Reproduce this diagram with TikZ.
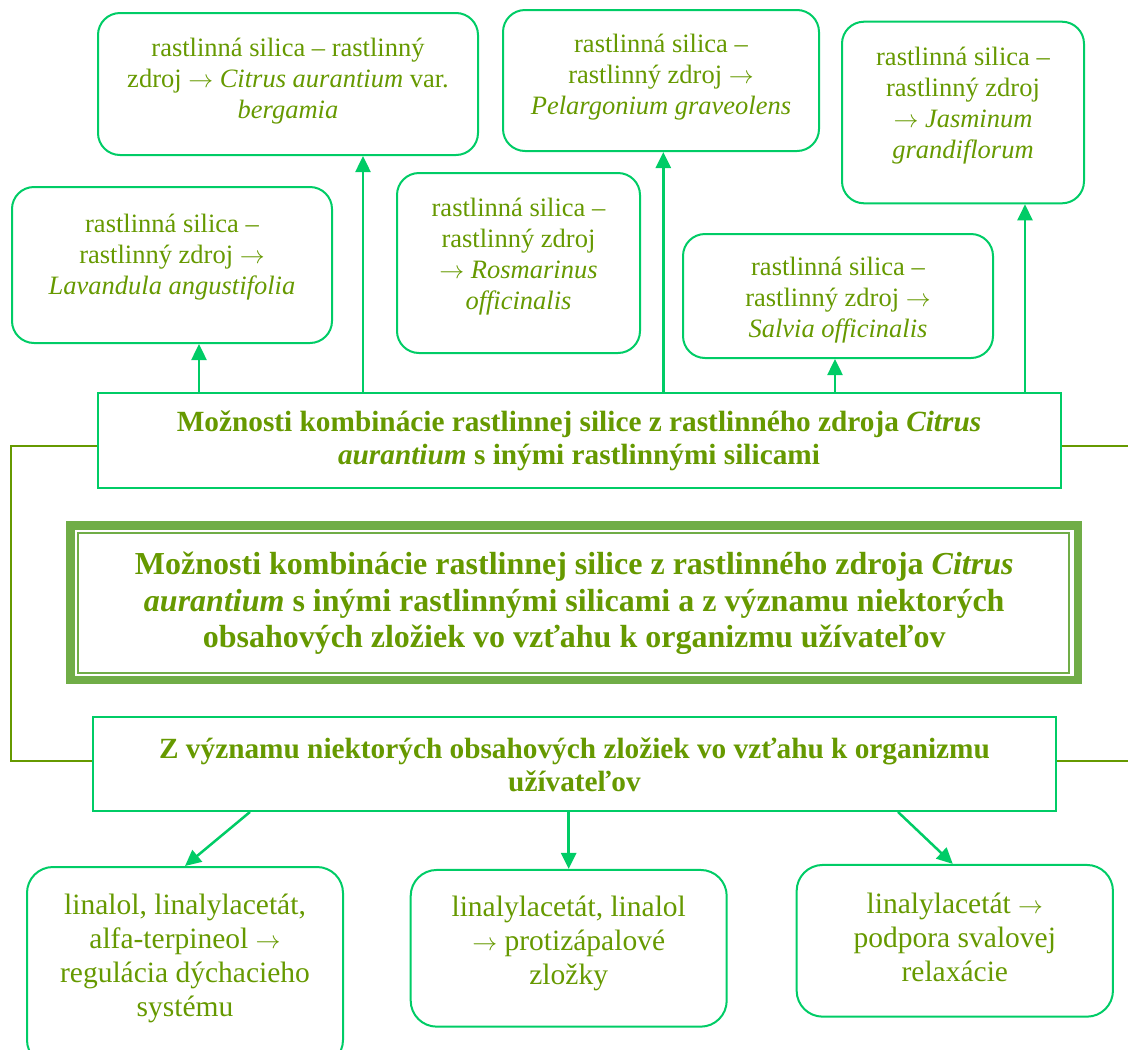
\documentclass[tikz,border=0pt]{standalone}
\usepackage{fontspec}
\setmainfont{Liberation Serif}
\usetikzlibrary{arrows.meta}
\definecolor{txtgreen}{RGB}{102,153,0}
\definecolor{boxgreen}{RGB}{0,204,102}
\definecolor{framegreen}{RGB}{112,173,71}
\definecolor{linkgreen}{RGB}{102,153,0}
\newcommand{\myarrow}{\ensuremath{\rightarrow}}
\begin{document}
\begin{tikzpicture}[x=1pt,y=-1pt,
  rbox/.style={draw=boxgreen, line width=2pt, rounded corners=22pt},
  lbox/.style={draw=boxgreen, line width=2pt, rounded corners=26pt},
  sbox/.style={draw=boxgreen, line width=2pt},
  stxt/.style={text=txtgreen, align=center, inner sep=0pt, font=\fontsize{26.5}{31}\selectfont},
  btxt/.style={text=txtgreen, align=center, inner sep=0pt, font=\fontsize{29.3}{33.5}\selectfont\bfseries},
  ctxt/.style={text=txtgreen, align=center, inner sep=0pt, font=\fontsize{32}{36.5}\selectfont\bfseries},
  ltxt/.style={text=txtgreen, align=center, inner sep=0pt, font=\fontsize{29.5}{34}\selectfont},
  arr/.style={draw=boxgreen, line width=2.5pt, -{Triangle[width=15pt,length=16pt]}},
  link/.style={draw=linkgreen, line width=2pt}]
\useasboundingbox (0,0) rectangle (1128,1050);

% top boxes
\node[rbox, minimum width=320pt, minimum height=156pt] (A) at (172,265) {};
\node[stxt] (At) at (172,257) {rastlinná silica –\\ rastlinný zdroj \myarrow\\ \textit{Lavandula angustifolia}};
\node[rbox, minimum width=380pt, minimum height=142pt] (B) at (288,84) {};
\node[stxt] (Bt) at (288,81) {rastlinná silica – rastlinný\\ zdroj \myarrow{} \textit{Citrus aurantium} var.\\ \textit{bergamia}};
\node[rbox, minimum width=243pt, minimum height=180pt] (C) at (518.5,263) {};
\node[stxt] (Ct) at (518.5,256.5) {rastlinná silica –\\ rastlinný zdroj\\ \myarrow{} \textit{Rosmarinus}\\ \textit{officinalis}};
\node[rbox, minimum width=316pt, minimum height=141pt] (D) at (661,80.5) {};
\node[stxt] (Dt) at (661,77.5) {rastlinná silica –\\ rastlinný zdroj \myarrow\\ \textit{Pelargonium graveolens}};
\node[rbox, minimum width=310pt, minimum height=124pt] (E) at (838,296) {};
\node[stxt] (Et) at (838,300) {rastlinná silica –\\ rastlinný zdroj \myarrow\\ \textit{Salvia officinalis}};
\node[rbox, minimum width=242pt, minimum height=181.6pt] (F) at (963,112.5) {};
\node[stxt] (Ft) at (963,105.5) {rastlinná silica –\\ rastlinný zdroj\\ \myarrow{} \textit{Jasminum}\\ \textit{grandiflorum}};

% first rectangle
\node[sbox, minimum width=963pt, minimum height=95pt] (T1) at (579,440) {};
\node[btxt] (T1t) at (579,441) {Možnosti kombinácie rastlinnej silice z rastlinného zdroja \textit{Citrus}\\ \textit{aurantium} s inými rastlinnými silicami};

% central double frame
\node[draw=framegreen, line width=8.5pt, minimum width=1007.5pt, minimum height=154.5pt] (M) at (574.25,602.75) {};
\node[draw=framegreen, line width=2pt, minimum width=990.5pt, minimum height=140pt] (Mi) at (573.25,603) {};
\node[ctxt] (Mt) at (574.25,603.5) {Možnosti kombinácie rastlinnej silice z rastlinného zdroja \textit{Citrus}\\ \textit{aurantium} s inými rastlinnými silicami a z významu niektorých\\ obsahových zložiek vo vzťahu k organizmu užívateľov};

% second rectangle
\node[sbox, minimum width=962.4pt, minimum height=94.3pt] (T2) at (574.5,763.8) {};
\node[btxt] (T2t) at (574.5,765) {Z významu niektorých obsahových zložiek vo vzťahu k organizmu\\ užívateľov};

% bottom boxes
\node[lbox, minimum width=316pt, minimum height=199pt] (G) at (185,966.5) {};
\node[ltxt] (Gt) at (185,958.5) {linalol, linalylacetát,\\ alfa-terpineol \myarrow\\ regulácia dýchacieho\\ systému};
\node[lbox, minimum width=316pt, minimum height=156.7pt] (H) at (568.7,948.3) {};
\node[ltxt] (Ht) at (568.7,943.5) {linalylacetát, linalol\\ \myarrow{} protizápalové\\ zložky};
\node[lbox, minimum width=316.3pt, minimum height=151.7pt] (I) at (954.8,940.8) {};
\node[ltxt] (It) at (954.8,937) {linalylacetát \myarrow\\ podpora svalovej\\ relaxácie};

% outer links
\coordinate (l1) at (11,0);
\coordinate (r1) at (1130,0);
\draw[link] ([yshift=-6pt]T1.west) -- ([yshift=-6pt]T1.west -| l1) -- ([yshift=3pt]T2.west -| l1) -- ([yshift=3pt]T2.west);
\draw[link] ([yshift=-6pt]T1.east) -- ([yshift=-6pt]T1.east -| r1);
\draw[link] ([yshift=3pt]T2.east) -- ([yshift=3pt]T2.east -| r1);

% arrows up
\draw[arr] ([xshift=27pt]A.south |- T1.north) -- ([xshift=27pt]A.south);
\draw[arr] ([xshift=75pt]B.south |- T1.north) -- ([xshift=75pt]B.south);
\draw[arr] ([xshift=2.3pt]D.south |- T1.north) -- ([xshift=2.3pt]D.south);
\draw[arr] ([xshift=-3pt]E.south |- T1.north) -- ([xshift=-3pt]E.south);
\draw[arr] ([xshift=62pt]F.south |- T1.north) -- ([xshift=62pt]F.south);

% arrows down
\draw[arr] ([xshift=-324.5pt]T2.south) -- (G.north);
\draw[arr] (H.north |- T2.south) -- (H.north);
\draw[arr] ([xshift=323.5pt]T2.south) -- ([xshift=-2pt]I.north);
\end{tikzpicture}
\end{document}
